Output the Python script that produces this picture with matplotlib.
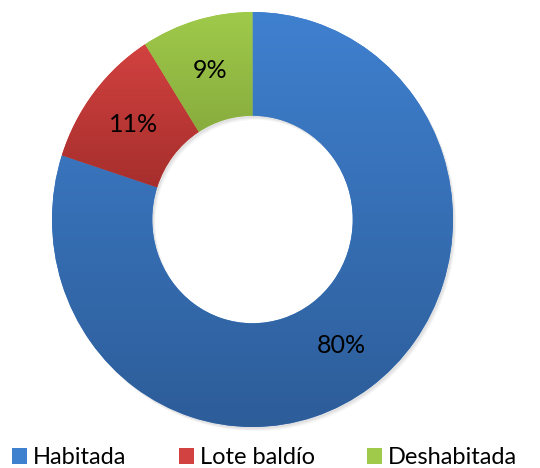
import numpy as np
import matplotlib
matplotlib.use('Agg')
import matplotlib.pyplot as plt
from matplotlib.colors import LinearSegmentedColormap
from matplotlib.patches import Wedge, Patch

# Datos
categorias = ['Habitada', 'Lote baldío', 'Deshabitada']
valores = [80, 11, 9]
color_arriba = ['#3f80cf', '#d24240', '#9fca4a']
color_abajo = ['#2d5d99', '#9c2a28', '#789735']

plt.rcParams['font.family'] = ['Lato', 'DejaVu Sans']

fig = plt.figure(figsize=(5.4, 4.68), dpi=100)
ax = fig.add_axes([0, 0, 1, 1])
ax.set_aspect('auto')

# sombra suave bajo el anillo
for k, a in zip([4, 3, 2], [0.06, 0.08, 0.10]):
    sh = Wedge((k * 0.004, -k * 0.005), 1.0, 0, 360, width=0.5,
               facecolor='#808080', edgecolor='none', alpha=a)
    ax.add_patch(sh)

wedges, textos, autotextos = ax.pie(
    valores, startangle=90, counterclock=False, radius=1.0,
    colors=color_arriba, autopct='%1.0f%%', pctdistance=0.75,
    wedgeprops=dict(width=0.5, edgecolor='none'),
    textprops=dict(fontsize=18, color='black'))

# degradado vertical en cada sector
grad = np.linspace(1, 0, 256).reshape(-1, 1)
for w, c1, c2 in zip(wedges, color_arriba, color_abajo):
    verts = w.get_path().vertices
    x0, x1 = verts[:, 0].min(), verts[:, 0].max()
    y0, y1 = verts[:, 1].min(), verts[:, 1].max()
    cmap = LinearSegmentedColormap.from_list('g', [c2, c1])
    im = ax.imshow(grad, cmap=cmap, extent=[x0, x1, y0, y1],
                   aspect='auto', zorder=w.get_zorder() + 0.1,
                   interpolation='bilinear')
    im.set_clip_path(w)
for t in autotextos:
    t.set_zorder(5)

ax.set_xlim(-252.5 / 200.5, (540 - 252.5) / 200.5)
ax.set_ylim(-(468 - 219.5) / 207.5, 219.5 / 207.5)
ax.set_aspect('auto')
ax.axis('off')

handles = [Patch(facecolor=c1, edgecolor='none') for c1 in color_arriba]
fig.legend(handles, categorias, loc='upper left',
           bbox_to_anchor=(12 / 540, 1 - 447 / 468), ncol=3, frameon=False,
           fontsize=17, handlelength=0.64, handleheight=0.64,
           handletextpad=0.26, columnspacing=2.2, borderpad=0,
           borderaxespad=0)

fig.savefig('out.png', dpi=100)
